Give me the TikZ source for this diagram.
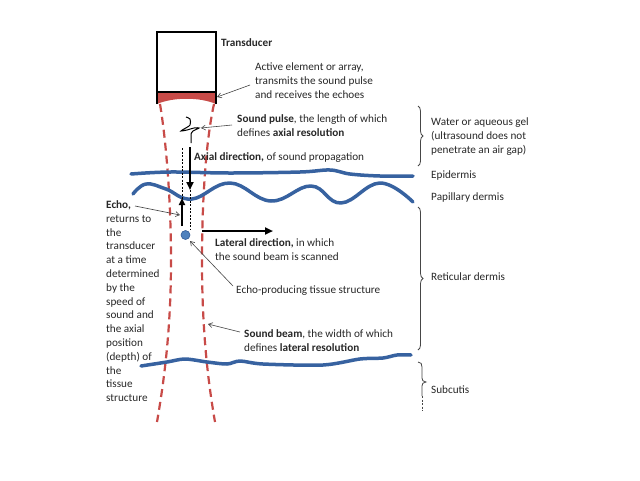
\documentclass[tikz,border=0pt]{standalone}
\usepackage{fontspec}
\setmainfont{Carlito}
\usetikzlibrary{arrows.meta,decorations.pathreplacing}
\definecolor{beamred}{RGB}{200,75,72}
\definecolor{skinblue}{RGB}{55,98,160}
\definecolor{dotblue}{RGB}{79,129,189}
\definecolor{dotedge}{RGB}{50,90,150}
\definecolor{txt}{RGB}{40,40,40}
\definecolor{thinline}{RGB}{70,70,70}
\begin{document}
\begin{tikzpicture}[x=1pt,y=-1pt,
  lbl/.style={anchor=north west, inner sep=0pt, align=left, font=\fontsize{11.2}{14.2}\selectfont, text=txt},
  pointer/.style={draw=thinline, line width=0.6pt, -{Straight Barb[length=4pt,width=5pt]}},
  bigarrow/.style={draw=black, line width=2.2pt, -{Triangle[length=8pt,width=7pt]}},
  skin/.style={draw=skinblue, line width=3.5pt, line cap=round, line join=round},
  beam/.style={draw=beamred, line width=2.2pt, dash pattern=on 8pt off 5pt},
  guide/.style={draw=black, line width=0.6pt, dash pattern=on 2pt off 1.5pt},
  bracestyle/.style={draw=thinline, line width=0.8pt, decorate, decoration={brace, amplitude=5pt}}]
\useasboundingbox (0,0) rectangle (640,480);
\fill[white] (0,0) rectangle (640,480);

% transducer
\fill[beamred] (157,92) -- (216,92) -- (216,104) .. controls (200,97) and (173,97) .. (157,104) -- cycle;
\draw[line width=1.5pt] (157,104) -- (157,32) -- (216,32) -- (216,104);
\draw[line width=1.5pt] (157,92) -- (216,92);

% sound beam
\draw[beam] (160,104) .. controls (166,140) and (171,200) .. (171,260) .. controls (171,320) and (166,370) .. (157,422);
\draw[beam] (214,104) .. controls (206,140) and (202,200) .. (202,260) .. controls (202,320) and (206,370) .. (215,422);

% skin layers
\draw[skin] plot[smooth, tension=0.6] coordinates {(131,174) (170,172) (230,173) (300,172) (330,170) (350,174) (380,176) (413,176)};
\draw[skin] plot[smooth, tension=0.7] coordinates {(133,194) (146,184) (166,189) (192,199) (230,183) (271,201) (311,186) (341,203) (380,183) (413,202)};
\draw[skin] plot[smooth, tension=0.5] coordinates {(141,366) (167,362) (185,359) (207,362) (227,364) (240,361) (263,364) (323,365) (360,359) (383,358) (397,355) (411,355)};

% sound pulse
\draw[line width=1pt] plot[smooth, tension=0.5] coordinates {(186,117) (190,119) (190,125) (184,129) (181,131) (187,130) (194,128) (199,128) (193,131) (191,134)} -- (191,143);

% guide dashed lines
\draw[guide] (182,148) -- (182,199);
\draw[guide] (190,190) -- (190,230);

% direction arrows
\coordinate (axs) at (190,147);
\coordinate (axe) at (190,190);
\draw[bigarrow] (axs) -- (axe);
\coordinate (lats) at (202,231);
\coordinate (late) at (273,231);
\draw[bigarrow] (lats) -- (late);
\coordinate (ecs) at (182,226);
\coordinate (ece) at (182,198);
\draw[line width=1.8pt, -{Triangle[length=7pt,width=6pt]}] (ecs) -- (ece);

% echo-producing structure
\node (dot) [circle, fill=dotblue, draw=dotedge, line width=0.6pt, minimum size=9pt, inner sep=0pt] at (185.5,235) {};

% labels
\node[lbl, font=\fontsize{11.2}{14.2}\selectfont\bfseries] (trans) at (221,38.5) {Transducer};
\node[lbl] (active) at (255,62.5) {Active element or array,\\transmits the sound pulse\\and receives the echoes};
\node[lbl] (pulse) at (237,114.5) {\textbf{Sound pulse}, the length of which\\defines \textbf{axial resolution}};
\node[lbl] (axial) at (194,152.5) {\textbf{Axial direction,} of sound propagation};
\node[lbl] (lateral) at (215,238.5) {\textbf{Lateral direction,} in which\\the sound beam is scanned};
\node[lbl] (echoprod) at (236,285.5) {Echo-producing tissue structure};
\node[lbl] (beamtxt) at (244,329.5) {\textbf{Sound beam}, the width of which\\defines \textbf{lateral resolution}};
\node[lbl, font=\fontsize{11.2}{13.8}\selectfont] (echo) at (106,200.5) {\textbf{Echo,}\\returns to\\the\\transducer\\at a time\\determined\\by the\\speed of\\sound and\\the axial\\position\\(depth) of\\the\\tissue\\structure};
\node[lbl] (water) at (431,117.5) {Water or aqueous gel\\(ultrasound does not\\penetrate an air gap)};
\node[lbl] (epi) at (431,170.5) {Epidermis};
\node[lbl] (pap) at (431,192.5) {Papillary dermis};
\node[lbl] (ret) at (431,272.5) {Reticular dermis};
\node[lbl] (sub) at (431,385.5) {Subcutis};

% pointers
\coordinate (pa1) at (250,85);   \coordinate (pa2) at (217,97);
\draw[pointer] (pa1) -- (pa2);
\coordinate (pp1) at (232,125);  \coordinate (pp2) at (201,128);
\draw[pointer] (pp1) -- (pp2);
\coordinate (pe1) at (135,206);  \coordinate (pe2) at (180,215);
\draw[pointer] (pe1) -- (pe2);
\coordinate (pt1) at (233,286);  \coordinate (pt2) at (190,241);
\draw[pointer] (pt1) -- (pt2);
\coordinate (pb1) at (240,332);  \coordinate (pb2) at (208,324);
\draw[pointer] (pb1) -- (pb2);

% braces
\coordinate (bw1) at (418,106); \coordinate (bw2) at (418,166);
\draw[bracestyle] (bw1) -- (bw2);
\coordinate (br1) at (418,207); \coordinate (br2) at (418,350);
\draw[bracestyle] (br1) -- (br2);
\draw[thinline, line width=0.8pt] (418,362) .. controls (421,362) and (422,364) .. (422,367) -- (422,378) .. controls (422,380) and (423,382) .. (426,382) .. controls (423,382) and (422,384) .. (422,386) -- (422,396);
\draw[thinline, line width=0.8pt, dash pattern=on 2pt off 1.5pt] (422,396) -- (422,411);
\end{tikzpicture}
\end{document}
